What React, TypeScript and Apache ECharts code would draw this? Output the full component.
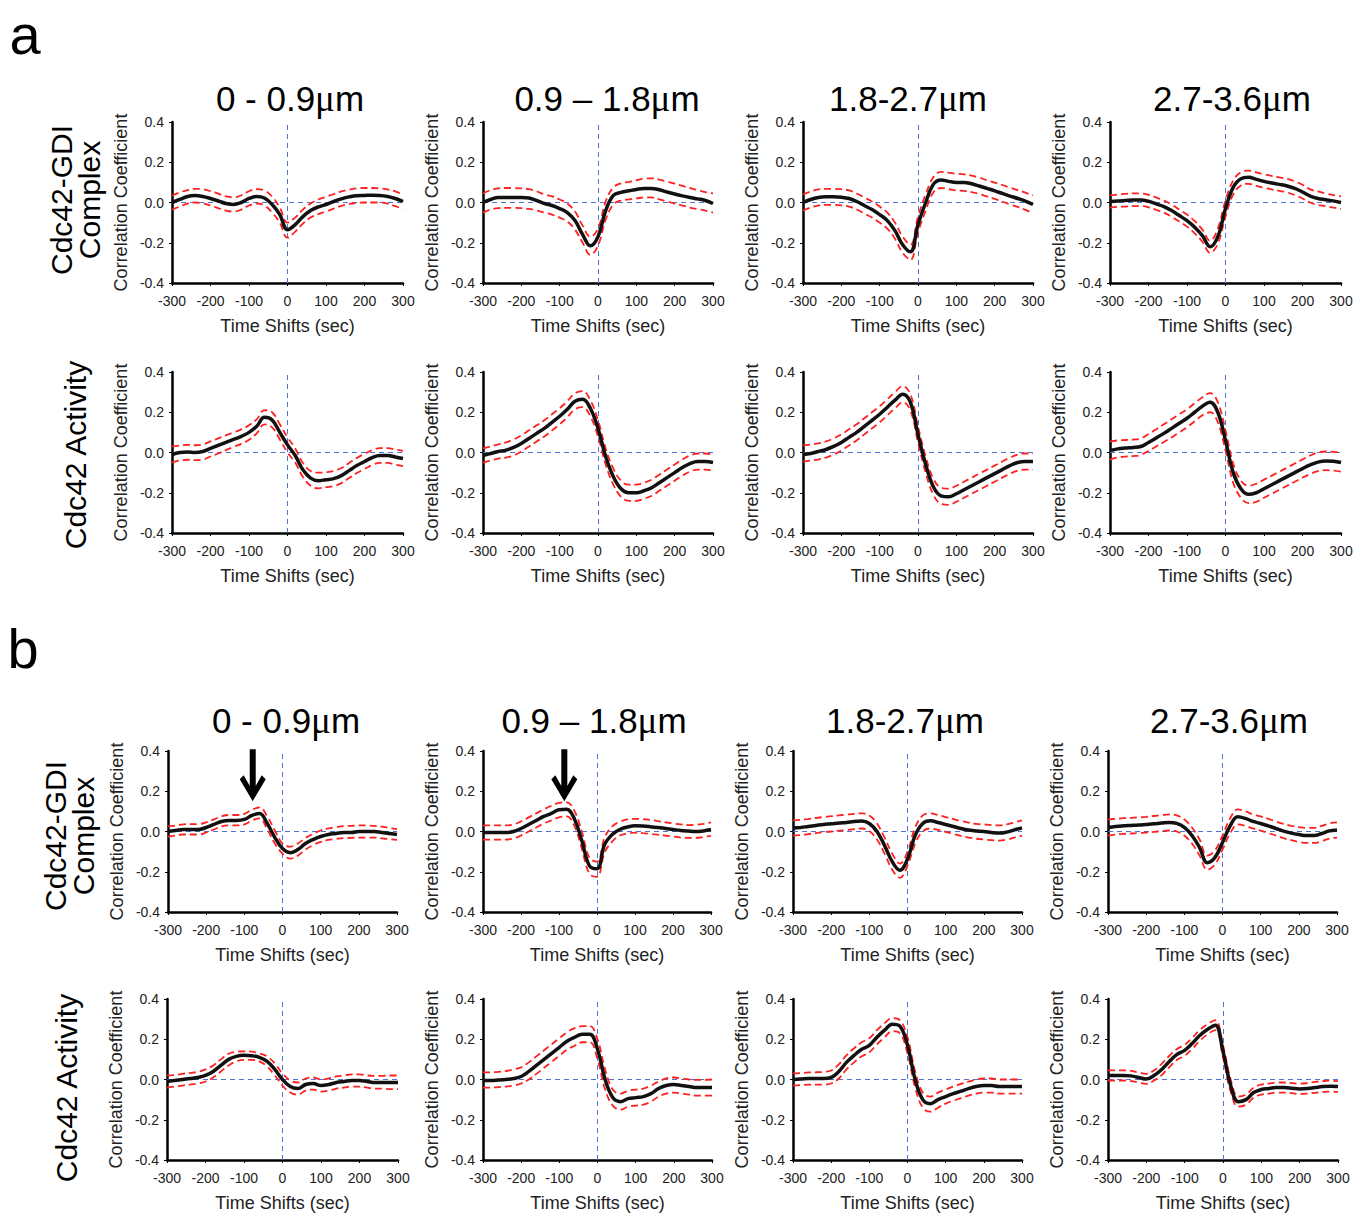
import React, { useEffect, useRef } from "react";
import * as echarts from "echarts";

// Time shifts (sec) at which each curve is sampled
const X = [-300, -280, -260, -240, -220, -200, -180, -160, -140, -120, -100, -80, -60, -40, -20, 0, 20, 40, 60, 80, 100, 120, 140, 160, 180, 200, 220, 240, 260, 280, 300];

const COLUMN_TITLES = ["0 - 0.9", "0.9 \u2013 1.8", "1.8-2.7", "2.7-3.6"];
const ROW_LABELS = ["Cdc42-GDI\nComplex", "Cdc42 Activity"];
const X_TICKS = [-300, -200, -100, 0, 100, 200, 300];
const Y_TICKS = [-0.4, -0.2, 0.0, 0.2, 0.4];

// ---- Panel a, row 1 (Cdc42-GDI Complex)
const A11_MEAN = [0.0, 0.015, 0.03, 0.035, 0.03, 0.02, 0.008, -0.005, -0.01, 0.0, 0.02, 0.03, 0.022, -0.01, -0.06, -0.135, -0.11, -0.07, -0.04, -0.022, -0.01, 0.005, 0.018, 0.028, 0.034, 0.035, 0.036, 0.035, 0.03, 0.02, 0.005];
const A11_UP = [0.035, 0.05, 0.062, 0.068, 0.066, 0.056, 0.044, 0.03, 0.026, 0.036, 0.056, 0.066, 0.06, 0.03, -0.025, -0.1, -0.075, -0.035, -0.005, 0.015, 0.028, 0.042, 0.055, 0.064, 0.07, 0.072, 0.072, 0.07, 0.065, 0.055, 0.04];
const A11_LO = [-0.035, -0.02, -0.005, 0.0, -0.004, -0.015, -0.028, -0.04, -0.045, -0.035, -0.015, -0.005, -0.015, -0.05, -0.1, -0.175, -0.145, -0.105, -0.075, -0.058, -0.045, -0.03, -0.017, -0.007, -0.002, 0.0, 0.0, 0.0, -0.005, -0.018, -0.033];

const A12_MEAN = [0.0, 0.015, 0.025, 0.025, 0.025, 0.025, 0.022, 0.01, -0.005, -0.015, -0.03, -0.05, -0.09, -0.16, -0.215, -0.17, -0.04, 0.035, 0.05, 0.058, 0.065, 0.07, 0.07, 0.063, 0.052, 0.042, 0.033, 0.025, 0.018, 0.01, -0.005];
const A12_UP = [0.045, 0.062, 0.07, 0.072, 0.072, 0.07, 0.066, 0.055, 0.04, 0.03, 0.015, -0.005, -0.045, -0.115, -0.17, -0.13, 0.005, 0.075, 0.095, 0.102, 0.11, 0.118, 0.12, 0.114, 0.104, 0.094, 0.083, 0.072, 0.062, 0.052, 0.045];
const A12_LO = [-0.05, -0.035, -0.028, -0.027, -0.027, -0.028, -0.032, -0.04, -0.05, -0.06, -0.075, -0.095, -0.135, -0.2, -0.26, -0.215, -0.085, -0.01, 0.01, 0.015, 0.02, 0.025, 0.025, 0.015, 0.005, -0.005, -0.015, -0.025, -0.033, -0.04, -0.05];

const A13_MEAN = [0.0, 0.015, 0.025, 0.028, 0.028, 0.026, 0.02, 0.005, -0.015, -0.035, -0.06, -0.09, -0.14, -0.21, -0.245, -0.11, 0.0, 0.09, 0.112, 0.105, 0.1, 0.1, 0.093, 0.082, 0.07, 0.058, 0.045, 0.032, 0.02, 0.007, -0.01];
const A13_UP = [0.04, 0.055, 0.065, 0.068, 0.068, 0.066, 0.06, 0.045, 0.025, 0.005, -0.02, -0.05, -0.1, -0.17, -0.21, -0.07, 0.04, 0.125, 0.152, 0.148, 0.143, 0.14, 0.133, 0.123, 0.111, 0.099, 0.087, 0.074, 0.062, 0.049, 0.035];
const A13_LO = [-0.04, -0.025, -0.015, -0.012, -0.012, -0.014, -0.02, -0.035, -0.055, -0.075, -0.1, -0.13, -0.18, -0.25, -0.285, -0.15, -0.04, 0.05, 0.072, 0.066, 0.06, 0.058, 0.052, 0.042, 0.03, 0.018, 0.005, -0.01, -0.022, -0.037, -0.052];

const A14_MEAN = [0.005, 0.008, 0.01, 0.012, 0.012, 0.006, -0.007, -0.02, -0.04, -0.065, -0.09, -0.123, -0.165, -0.22, -0.17, -0.03, 0.075, 0.118, 0.125, 0.115, 0.105, 0.097, 0.09, 0.082, 0.07, 0.052, 0.032, 0.02, 0.014, 0.008, 0.0];
const A14_UP = [0.035, 0.04, 0.043, 0.045, 0.045, 0.038, 0.025, 0.01, -0.01, -0.035, -0.06, -0.093, -0.135, -0.19, -0.13, 0.01, 0.11, 0.15, 0.158, 0.15, 0.14, 0.132, 0.125, 0.117, 0.105, 0.088, 0.065, 0.055, 0.045, 0.037, 0.03];
const A14_LO = [-0.025, -0.022, -0.02, -0.018, -0.018, -0.024, -0.037, -0.05, -0.07, -0.095, -0.12, -0.153, -0.195, -0.25, -0.205, -0.07, 0.04, 0.085, 0.093, 0.083, 0.073, 0.065, 0.058, 0.05, 0.037, 0.02, 0.0, -0.012, -0.018, -0.025, -0.032];

// ---- Panel a, row 2 (Cdc42 Activity)
const A21_MEAN = [-0.01, 0.0, 0.002, 0.0, 0.005, 0.02, 0.035, 0.05, 0.065, 0.08, 0.1, 0.13, 0.175, 0.162, 0.1, 0.038, -0.015, -0.086, -0.127, -0.14, -0.135, -0.13, -0.115, -0.09, -0.065, -0.045, -0.025, -0.015, -0.015, -0.022, -0.03];
const A21_UP = [0.03, 0.035, 0.038, 0.036, 0.04, 0.055, 0.07, 0.085, 0.1, 0.115, 0.135, 0.165, 0.21, 0.2, 0.14, 0.075, 0.02, -0.052, -0.092, -0.1, -0.098, -0.092, -0.077, -0.052, -0.027, -0.007, 0.012, 0.022, 0.022, 0.015, 0.008];
const A21_LO = [-0.05, -0.04, -0.036, -0.038, -0.035, -0.02, -0.005, 0.012, 0.028, 0.043, 0.063, 0.095, 0.14, 0.125, 0.065, 0.0, -0.05, -0.122, -0.165, -0.178, -0.172, -0.167, -0.152, -0.127, -0.102, -0.082, -0.062, -0.052, -0.052, -0.06, -0.068];

const A22_MEAN = [-0.015, -0.005, 0.005, 0.012, 0.025, 0.045, 0.07, 0.095, 0.12, 0.15, 0.18, 0.215, 0.255, 0.265, 0.22, 0.12, -0.02, -0.12, -0.18, -0.2, -0.2, -0.19, -0.175, -0.15, -0.125, -0.1, -0.075, -0.055, -0.045, -0.045, -0.05];
const A22_UP = [0.02, 0.03, 0.04, 0.05, 0.065, 0.085, 0.11, 0.135, 0.16, 0.19, 0.22, 0.255, 0.295, 0.305, 0.26, 0.16, 0.02, -0.08, -0.14, -0.16, -0.16, -0.15, -0.135, -0.11, -0.085, -0.06, -0.035, -0.015, -0.005, -0.005, -0.01];
const A22_LO = [-0.05, -0.04, -0.03, -0.025, -0.015, 0.005, 0.03, 0.055, 0.08, 0.11, 0.14, 0.175, 0.215, 0.225, 0.18, 0.08, -0.06, -0.16, -0.22, -0.24, -0.24, -0.23, -0.215, -0.19, -0.165, -0.14, -0.115, -0.095, -0.085, -0.085, -0.09];

const A23_MEAN = [-0.01, -0.005, 0.005, 0.015, 0.03, 0.05, 0.075, 0.1, 0.13, 0.16, 0.19, 0.225, 0.26, 0.29, 0.25, 0.09, -0.06, -0.17, -0.215, -0.22, -0.205, -0.185, -0.165, -0.145, -0.125, -0.105, -0.085, -0.065, -0.05, -0.045, -0.045];
const A23_UP = [0.035, 0.04, 0.045, 0.055, 0.07, 0.09, 0.115, 0.14, 0.17, 0.2, 0.23, 0.265, 0.3, 0.33, 0.29, 0.13, -0.02, -0.13, -0.175, -0.18, -0.165, -0.145, -0.125, -0.105, -0.085, -0.065, -0.045, -0.025, -0.01, -0.005, -0.005];
const A23_LO = [-0.045, -0.04, -0.035, -0.025, -0.01, 0.01, 0.035, 0.06, 0.09, 0.12, 0.15, 0.185, 0.22, 0.25, 0.21, 0.05, -0.1, -0.21, -0.255, -0.26, -0.245, -0.225, -0.205, -0.185, -0.165, -0.145, -0.125, -0.105, -0.09, -0.085, -0.085];

const A24_MEAN = [0.01, 0.018, 0.022, 0.025, 0.03, 0.05, 0.072, 0.095, 0.12, 0.145, 0.17, 0.2, 0.23, 0.25, 0.2, 0.06, -0.1, -0.18, -0.208, -0.2, -0.18, -0.16, -0.14, -0.12, -0.1, -0.08, -0.062, -0.048, -0.042, -0.043, -0.05];
const A24_UP = [0.055, 0.06, 0.062, 0.064, 0.07, 0.092, 0.115, 0.14, 0.165, 0.19, 0.215, 0.245, 0.275, 0.295, 0.25, 0.11, -0.055, -0.14, -0.165, -0.155, -0.135, -0.115, -0.095, -0.075, -0.055, -0.035, -0.015, 0.0, 0.005, 0.003, 0.0];
const A24_LO = [-0.035, -0.025, -0.02, -0.018, -0.012, 0.008, 0.03, 0.052, 0.075, 0.1, 0.125, 0.155, 0.185, 0.2, 0.15, 0.01, -0.15, -0.225, -0.252, -0.245, -0.225, -0.205, -0.185, -0.165, -0.145, -0.125, -0.107, -0.093, -0.088, -0.09, -0.095];

// ---- Panel b, row 1 (Cdc42-GDI Complex)
const B11_MEAN = [0.0, 0.005, 0.01, 0.01, 0.01, 0.02, 0.035, 0.05, 0.055, 0.055, 0.06, 0.08, 0.09, 0.04, -0.03, -0.085, -0.105, -0.09, -0.06, -0.04, -0.025, -0.015, -0.01, -0.005, -0.005, 0.0, 0.0, 0.0, -0.005, -0.01, -0.015];
const B11_UP = [0.025, 0.03, 0.035, 0.037, 0.037, 0.045, 0.06, 0.075, 0.082, 0.082, 0.088, 0.108, 0.12, 0.075, 0.005, -0.06, -0.075, -0.06, -0.032, -0.012, 0.005, 0.015, 0.022, 0.027, 0.028, 0.03, 0.03, 0.028, 0.024, 0.018, 0.012];
const B11_LO = [-0.025, -0.02, -0.015, -0.015, -0.015, -0.005, 0.01, 0.025, 0.03, 0.03, 0.035, 0.055, 0.065, 0.01, -0.06, -0.11, -0.135, -0.12, -0.09, -0.068, -0.052, -0.042, -0.037, -0.033, -0.032, -0.03, -0.03, -0.03, -0.034, -0.038, -0.042];

const B12_MEAN = [-0.005, -0.005, -0.005, -0.005, 0.0, 0.015, 0.035, 0.055, 0.075, 0.09, 0.108, 0.11, 0.065, -0.045, -0.17, -0.185, -0.065, -0.015, 0.01, 0.022, 0.028, 0.027, 0.024, 0.02, 0.015, 0.01, 0.005, 0.002, 0.0, 0.003, 0.01];
const B12_UP = [0.03, 0.03, 0.03, 0.03, 0.035, 0.05, 0.07, 0.09, 0.11, 0.128, 0.142, 0.145, 0.105, 0.0, -0.13, -0.15, -0.03, 0.025, 0.048, 0.06, 0.063, 0.062, 0.058, 0.052, 0.046, 0.04, 0.035, 0.032, 0.033, 0.038, 0.045];
const B12_LO = [-0.04, -0.04, -0.04, -0.04, -0.035, -0.02, 0.0, 0.02, 0.04, 0.055, 0.07, 0.075, 0.03, -0.085, -0.21, -0.225, -0.105, -0.05, -0.02, -0.01, -0.006, -0.008, -0.012, -0.016, -0.02, -0.025, -0.03, -0.032, -0.032, -0.028, -0.022];

const B13_MEAN = [0.018, 0.02, 0.025, 0.03, 0.035, 0.038, 0.042, 0.045, 0.05, 0.052, 0.04, 0.0, -0.07, -0.15, -0.192, -0.137, -0.02, 0.04, 0.053, 0.045, 0.035, 0.025, 0.015, 0.007, 0.002, 0.0, -0.005, -0.008, -0.003, 0.008, 0.018];
const B13_UP = [0.055, 0.058, 0.062, 0.067, 0.072, 0.076, 0.08, 0.084, 0.088, 0.09, 0.08, 0.04, -0.03, -0.11, -0.16, -0.1, 0.02, 0.08, 0.09, 0.082, 0.072, 0.062, 0.052, 0.044, 0.038, 0.035, 0.032, 0.03, 0.035, 0.045, 0.055];
const B13_LO = [-0.02, -0.018, -0.013, -0.008, -0.003, 0.0, 0.004, 0.007, 0.012, 0.015, 0.002, -0.04, -0.11, -0.19, -0.23, -0.17, -0.06, 0.0, 0.015, 0.008, -0.002, -0.012, -0.022, -0.03, -0.036, -0.04, -0.043, -0.045, -0.04, -0.03, -0.02];

const B14_MEAN = [0.02, 0.025, 0.028, 0.03, 0.032, 0.035, 0.038, 0.042, 0.045, 0.04, 0.02, -0.02, -0.08, -0.155, -0.13, -0.055, 0.028, 0.073, 0.065, 0.05, 0.04, 0.028, 0.015, 0.002, -0.008, -0.015, -0.02, -0.02, -0.01, 0.003, 0.008];
const B14_UP = [0.06, 0.063, 0.066, 0.068, 0.07, 0.073, 0.077, 0.081, 0.085, 0.08, 0.06, 0.02, -0.04, -0.12, -0.095, -0.02, 0.065, 0.11, 0.1, 0.085, 0.075, 0.063, 0.05, 0.038, 0.028, 0.022, 0.018, 0.018, 0.028, 0.04, 0.045];
const B14_LO = [-0.02, -0.015, -0.012, -0.01, -0.008, -0.005, -0.002, 0.002, 0.005, 0.0, -0.02, -0.06, -0.12, -0.19, -0.165, -0.09, -0.01, 0.035, 0.028, 0.015, 0.004, -0.008, -0.02, -0.033, -0.043, -0.052, -0.057, -0.057, -0.048, -0.035, -0.03];

// ---- Panel b, row 2 (Cdc42 Activity)
const B21_MEAN = [-0.01, -0.005, 0.0, 0.005, 0.01, 0.02, 0.04, 0.07, 0.1, 0.115, 0.12, 0.118, 0.11, 0.09, 0.05, 0.0, -0.035, -0.045, -0.025, -0.02, -0.03, -0.025, -0.015, -0.01, -0.005, -0.005, -0.01, -0.015, -0.015, -0.015, -0.015];
const B21_UP = [0.02, 0.022, 0.028, 0.033, 0.038, 0.05, 0.07, 0.1, 0.128, 0.138, 0.14, 0.138, 0.13, 0.115, 0.08, 0.03, -0.005, -0.015, 0.005, 0.01, 0.0, 0.005, 0.015, 0.02, 0.025, 0.025, 0.02, 0.018, 0.018, 0.02, 0.02];
const B21_LO = [-0.04, -0.035, -0.03, -0.025, -0.02, -0.01, 0.01, 0.04, 0.07, 0.09, 0.098, 0.098, 0.09, 0.065, 0.02, -0.03, -0.065, -0.075, -0.055, -0.05, -0.06, -0.055, -0.045, -0.04, -0.035, -0.035, -0.04, -0.045, -0.045, -0.048, -0.048];

const B22_MEAN = [-0.005, -0.005, -0.003, 0.0, 0.005, 0.015, 0.04, 0.07, 0.1, 0.13, 0.16, 0.19, 0.21, 0.225, 0.225, 0.15, 0.0, -0.09, -0.11, -0.095, -0.09, -0.085, -0.07, -0.045, -0.03, -0.025, -0.03, -0.035, -0.04, -0.04, -0.04];
const B22_UP = [0.035, 0.036, 0.038, 0.042, 0.05, 0.06, 0.085, 0.115, 0.145, 0.175, 0.205, 0.235, 0.255, 0.265, 0.265, 0.2, 0.05, -0.05, -0.07, -0.055, -0.05, -0.045, -0.03, -0.01, 0.005, 0.01, 0.005, 0.0, -0.002, -0.002, 0.0];
const B22_LO = [-0.04, -0.04, -0.038, -0.035, -0.03, -0.02, 0.0, 0.028, 0.058, 0.088, 0.118, 0.148, 0.168, 0.185, 0.185, 0.1, -0.05, -0.13, -0.15, -0.135, -0.13, -0.125, -0.11, -0.085, -0.07, -0.065, -0.07, -0.075, -0.08, -0.08, -0.08];

const B23_MEAN = [0.0, 0.002, 0.005, 0.005, 0.005, 0.01, 0.04, 0.085, 0.12, 0.15, 0.17, 0.21, 0.245, 0.275, 0.265, 0.17, 0.0, -0.1, -0.12, -0.1, -0.085, -0.07, -0.058, -0.045, -0.035, -0.03, -0.03, -0.035, -0.035, -0.035, -0.035];
const B23_UP = [0.03, 0.032, 0.035, 0.036, 0.038, 0.045, 0.075, 0.12, 0.155, 0.185, 0.205, 0.245, 0.28, 0.305, 0.295, 0.21, 0.04, -0.065, -0.085, -0.065, -0.05, -0.035, -0.022, -0.01, 0.0, 0.005, 0.005, 0.0, 0.0, 0.0, 0.0];
const B23_LO = [-0.03, -0.028, -0.025, -0.025, -0.025, -0.02, 0.005, 0.05, 0.085, 0.115, 0.135, 0.175, 0.21, 0.24, 0.23, 0.13, -0.04, -0.14, -0.16, -0.14, -0.12, -0.105, -0.093, -0.08, -0.07, -0.065, -0.065, -0.07, -0.07, -0.07, -0.07];

const B24_MEAN = [0.02, 0.02, 0.02, 0.018, 0.01, 0.002, 0.02, 0.05, 0.09, 0.125, 0.145, 0.18, 0.22, 0.25, 0.27, 0.14, -0.03, -0.11, -0.1, -0.065, -0.05, -0.045, -0.04, -0.04, -0.043, -0.047, -0.045, -0.04, -0.035, -0.033, -0.035];
const B24_UP = [0.045, 0.045, 0.045, 0.043, 0.035, 0.028, 0.045, 0.078, 0.118, 0.152, 0.172, 0.207, 0.247, 0.275, 0.295, 0.17, 0.0, -0.085, -0.075, -0.04, -0.025, -0.02, -0.015, -0.015, -0.018, -0.021, -0.018, -0.012, -0.008, -0.006, -0.008];
const B24_LO = [-0.005, -0.005, -0.005, -0.008, -0.015, -0.022, -0.005, 0.022, 0.062, 0.098, 0.118, 0.153, 0.193, 0.225, 0.245, 0.11, -0.06, -0.135, -0.125, -0.09, -0.075, -0.07, -0.065, -0.065, -0.068, -0.072, -0.07, -0.066, -0.062, -0.06, -0.062];

// Arrow annotations (panel b, row 1): time shift and vertical centre
const ARROW_X = [-78, -86];
const ARROW_Y = 0.28;

const FONT = "Liberation Sans, Arial, Helvetica, sans-serif";

const ARROW_PATH =
  "path://M10,0 L16,0 L16,46 L10,46 Z M0,30 L4,26 L13,42 L22,26 L26,30 L13,52 Z";

type Panel = {
  mean: number[];
  upper: number[];
  lower: number[];
  left: number;
  top: number;
  width: number;
  height: number;
  arrow?: number;
};

const panels: Panel[] = [
  { mean: A11_MEAN, upper: A11_UP, lower: A11_LO, left: 172, top: 122, width: 231, height: 161 },
  { mean: A12_MEAN, upper: A12_UP, lower: A12_LO, left: 483, top: 122, width: 230, height: 161 },
  { mean: A13_MEAN, upper: A13_UP, lower: A13_LO, left: 803, top: 122, width: 230, height: 161 },
  { mean: A14_MEAN, upper: A14_UP, lower: A14_LO, left: 1110, top: 122, width: 231, height: 161 },
  { mean: A21_MEAN, upper: A21_UP, lower: A21_LO, left: 172, top: 372, width: 231, height: 161 },
  { mean: A22_MEAN, upper: A22_UP, lower: A22_LO, left: 483, top: 372, width: 230, height: 161 },
  { mean: A23_MEAN, upper: A23_UP, lower: A23_LO, left: 803, top: 372, width: 230, height: 161 },
  { mean: A24_MEAN, upper: A24_UP, lower: A24_LO, left: 1110, top: 372, width: 231, height: 161 },
  { mean: B11_MEAN, upper: B11_UP, lower: B11_LO, left: 168, top: 751, width: 229, height: 161, arrow: ARROW_X[0] },
  { mean: B12_MEAN, upper: B12_UP, lower: B12_LO, left: 483, top: 751, width: 228, height: 161, arrow: ARROW_X[1] },
  { mean: B13_MEAN, upper: B13_UP, lower: B13_LO, left: 793, top: 751, width: 229, height: 161 },
  { mean: B14_MEAN, upper: B14_UP, lower: B14_LO, left: 1108, top: 751, width: 229, height: 161 },
  { mean: B21_MEAN, upper: B21_UP, lower: B21_LO, left: 167, top: 999, width: 231, height: 161 },
  { mean: B22_MEAN, upper: B22_UP, lower: B22_LO, left: 483, top: 999, width: 229, height: 161 },
  { mean: B23_MEAN, upper: B23_UP, lower: B23_LO, left: 793, top: 999, width: 229, height: 161 },
  { mean: B24_MEAN, upper: B24_UP, lower: B24_LO, left: 1108, top: 999, width: 230, height: 161 },
];

const titlePos = [
  { y: 98, xs: [290, 607, 908, 1232] },
  { y: 720, xs: [286, 594, 905, 1229] },
];

const rowLabelPos = [
  { x: 75, y: 200, label: 0 },
  { x: 75, y: 455, label: 1 },
  { x: 69, y: 836, label: 0 },
  { x: 66, y: 1088, label: 1 },
];

function buildOption() {
  const grid: any[] = [];
  const xAxis: any[] = [];
  const yAxis: any[] = [];
  const series: any[] = [];

  panels.forEach((p, i) => {
    grid.push({ left: p.left, top: p.top, width: p.width, height: p.height, containLabel: false });
    xAxis.push({
      gridIndex: i,
      type: "value",
      min: X_TICKS[0],
      max: X_TICKS[X_TICKS.length - 1],
      interval: 100,
      name: "Time Shifts (sec)",
      nameLocation: "middle",
      nameGap: 34,
      nameTextStyle: { fontFamily: FONT, fontSize: 18, color: "#222" },
      axisLine: { onZero: false, lineStyle: { color: "#000", width: 2.5 } },
      axisTick: { show: true, inside: false, length: 3, lineStyle: { color: "#000", width: 1 } },
      axisLabel: { fontFamily: FONT, fontSize: 14, color: "#222", margin: 11 },
      splitLine: { show: false },
    });
    yAxis.push({
      gridIndex: i,
      type: "value",
      min: Y_TICKS[0],
      max: Y_TICKS[Y_TICKS.length - 1],
      interval: 0.2,
      name: "Correlation Coefficient",
      nameLocation: "middle",
      nameGap: 42,
      nameTextStyle: { fontFamily: FONT, fontSize: 18, color: "#222" },
      axisLine: { onZero: false, lineStyle: { color: "#000", width: 2.5 } },
      axisTick: { show: true, inside: false, length: 3, lineStyle: { color: "#000", width: 1 } },
      axisLabel: {
        fontFamily: FONT,
        fontSize: 14,
        color: "#222",
        margin: 8,
        formatter: (v: number) => v.toFixed(1),
      },
      splitLine: { show: false },
    });

    const pairs = (arr: number[]) => X.map((x, k) => [x, arr[k]]);

    series.push({
      type: "line",
      xAxisIndex: i,
      yAxisIndex: i,
      data: pairs(p.upper),
      smooth: 0.4,
      showSymbol: false,
      silent: true,
      z: 2,
      lineStyle: { color: "#ff2020", width: 1.8, type: [7, 4] },
      markLine: {
        silent: true,
        symbol: ["none", "none"],
        label: { show: false },
        lineStyle: { color: "#4f73d4", width: 1, type: [5, 4] },
        data: [{ yAxis: 0 }, { xAxis: 0 }],
        z: 1,
      },
    });
    series.push({
      type: "line",
      xAxisIndex: i,
      yAxisIndex: i,
      data: pairs(p.lower),
      smooth: 0.4,
      showSymbol: false,
      silent: true,
      z: 2,
      lineStyle: { color: "#ff2020", width: 1.8, type: [7, 4] },
    });
    const meanSeries: any = {
      type: "line",
      xAxisIndex: i,
      yAxisIndex: i,
      data: pairs(p.mean),
      smooth: 0.4,
      showSymbol: false,
      silent: true,
      z: 3,
      lineStyle: { color: "#111", width: 3.5 },
    };
    if (p.arrow !== undefined) {
      meanSeries.markPoint = {
        silent: true,
        data: [
          {
            coord: [p.arrow, ARROW_Y],
            symbol: ARROW_PATH,
            symbolSize: [26, 52],
            itemStyle: { color: "#000" },
            label: { show: false },
          },
        ],
      };
    }
    series.push(meanSeries);
  });

  const graphic: any[] = [];
  graphic.push({
    type: "text",
    x: 25,
    y: 34,
    style: { text: "a", fontFamily: FONT, fontSize: 56, fill: "#000", align: "center", verticalAlign: "middle" },
  });
  graphic.push({
    type: "text",
    x: 23,
    y: 648,
    style: { text: "b", fontFamily: FONT, fontSize: 56, fill: "#000", align: "center", verticalAlign: "middle" },
  });
  titlePos.forEach((tp) => {
    tp.xs.forEach((x, c) => {
      graphic.push({
        type: "text",
        x,
        y: tp.y,
        style: {
          text: COLUMN_TITLES[c] + "{mu|\u03bc}m",
          fontFamily: FONT,
          fontSize: 35,
          fill: "#000",
          align: "center",
          verticalAlign: "middle",
          rich: {
            mu: { fontFamily: "Liberation Serif, DejaVu Serif, serif", fontSize: 37, fill: "#000" },
          },
        },
      });
    });
  });
  rowLabelPos.forEach((r) => {
    graphic.push({
      type: "text",
      x: r.x,
      y: r.y,
      rotation: Math.PI / 2,
      style: {
        text: ROW_LABELS[r.label],
        fontFamily: FONT,
        fontSize: 30,
        lineHeight: 28,
        fill: "#000",
        align: "center",
        verticalAlign: "middle",
      },
    });
  });

  return {
    animation: false,
    backgroundColor: "#ffffff",
    textStyle: { fontFamily: FONT },
    grid,
    xAxis,
    yAxis,
    series,
    graphic,
  };
}

export default function App() {
  const ref = useRef<HTMLDivElement>(null);
  useEffect(() => {
    document.body.style.margin = "0";
    if (!ref.current) return;
    const chart = echarts.init(ref.current, undefined, { renderer: "svg" });
    chart.setOption(buildOption());
    return () => chart.dispose();
  }, []);
  return <div ref={ref} style={{ width: 1366, height: 1213, background: "#fff" }} />;
}
